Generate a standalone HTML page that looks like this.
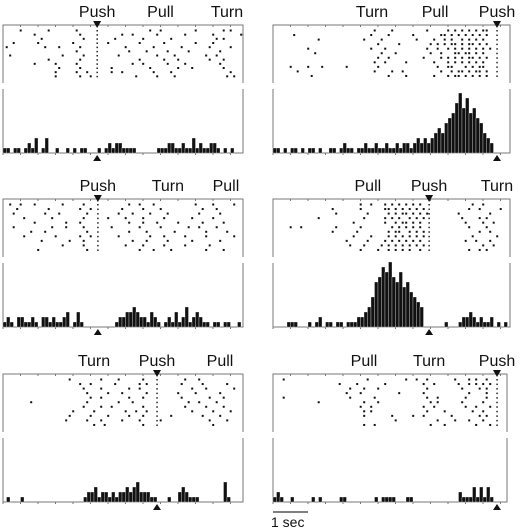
<!DOCTYPE html>
<html><head><meta charset="utf-8"><style>
html,body{margin:0;padding:0;background:#fff;width:520px;height:530px;overflow:hidden}
svg{display:block}
text{font-family:"Liberation Sans",sans-serif}
</style></head><body>
<svg id="fig" width="520" height="530"></svg>
<script>
// ---- data ----
const eventNamesA=["Push","Pull","Turn"];const eventTimesA=[2.69,4.5,6.4];const alignA=2.69;
const eventNamesB=["Turn","Pull","Push"];const eventTimesB=[2.83,4.63,6.4];const alignB=6.4;
const eventNamesC=["Push","Turn","Pull"];const eventTimesC=[2.71,4.71,6.37];const alignC=2.71;
const eventNamesD=["Pull","Push","Turn"];const eventTimesD=[2.71,4.46,6.4];const alignD=4.46;
const eventNamesE=["Turn","Push","Pull"];const eventTimesE=[2.6,4.4,6.2];const alignE=4.4;
const eventNamesF=["Pull","Turn","Push"];const eventTimesF=[2.6,4.46,6.4];const alignF=6.4;

const histA=[1,1,0,1,1,0,1,2,1,3,0,1,3,0,0,1,0,0,1,0,1,0,1,1,0,0,0,1,0,1,2,1,2,2,1,1,1,1,0,0,0,0,0,0,1,1,1,2,2,1,1,2,1,1,3,1,2,1,1,2,2,1,0,1,0,1,0,0];
const histB=[1,1,0,1,0,1,1,0,1,0,1,1,0,1,0,0,1,1,0,1,2,1,1,0,1,1,2,1,1,2,1,1,2,1,1,2,1,2,2,1,2,3,2,3,2,3,4,5,4,6,7,8,10,12,9,11,8,9,7,6,4,3,2,0,0,0,0,0];
const histC=[1,2,1,0,2,2,1,1,2,1,0,2,2,1,2,1,1,2,3,0,1,3,1,0,0,0,0,0,0,0,0,0,1,2,2,3,3,4,3,2,2,1,3,2,1,0,1,2,1,3,1,2,4,1,2,3,2,1,1,0,1,1,0,1,1,0,0,1];
const histD=[0,0,0,0,1,1,1,0,0,0,1,0,1,2,0,1,1,0,1,1,0,1,1,1,2,2,3,4,6,9,10,12,11,13,10,9,11,8,9,7,6,5,4,0,0,0,0,0,0,1,0,0,0,1,2,2,3,2,1,2,1,1,2,0,1,0,1,0];
const histE=[0,1,0,0,0,1,0,0,0,0,0,0,0,0,0,0,0,0,0,0,0,0,0,1,2,2,3,1,2,2,1,2,1,2,2,3,2,3,4,2,2,2,1,1,0,0,0,1,0,0,2,3,2,1,1,1,0,0,0,0,0,0,0,4,1,0,0,0];
const histF=[1,2,1,0,0,1,0,0,0,0,0,1,0,1,0,0,0,0,0,1,1,0,0,0,0,0,0,0,0,1,0,1,1,1,1,0,0,0,1,1,0,0,0,0,0,0,0,0,0,0,0,0,0,2,1,1,1,3,1,3,1,3,1,0,0,0,0,0];

const rasterA=[[0.5,1.3,2.1,4.2,4.5,5.5,6.3,6.5],[0.9,2.2,3.4,3.7,4.4,5.2,6.0,6.8],[1.1,2.3,3.2,4.0,4.8,6.1,6.3],[0.3,1.0,2.0,3.0,3.9,4.6,5.5,6.0],[0.1,1.2,1.6,2.2,3.5,4.3,5.1,5.9,6.5],[2.1,3.6,4.1,4.7,5.3,6.2],[0.2,1.7,2.3,3.3,4.4,4.9,5.8,6.1],[1.3,2.2,3.9,4.6,5.0,5.9,6.3],[0.9,1.5,2.1,3.7,4.0,4.7,5.2,6.2],[1.6,2.2,3.1,4.2,5.0,5.4,6.3],[1.5,2.1,2.4,3.1,3.4,4.3,4.8,6.5],[1.5,2.2,2.5,3.8,4.4,4.9,6.4,6.6]];
const rasterB=[[2.9,3.4,4.4,5.0,5.2,5.4,5.6,5.8,6.0,6.1],[0.6,2.8,3.3,4.0,4.8,4.9,5.1,5.3,5.5,5.7,5.9,6.1],[1.3,2.6,3.1,4.1,4.6,4.9,5.1,5.4,5.6,5.8,6.0],[3.0,3.6,4.5,4.7,4.9,5.1,5.2,5.4,5.6,5.7,5.9,6.1],[1.0,2.8,3.2,4.4,4.7,5.0,5.2,5.4,5.6,5.8,6.0,6.2],[1.2,3.1,3.5,4.5,4.8,5.2,5.3,5.5,5.6,5.8,6.0],[3.0,3.3,4.3,4.8,5.0,5.2,5.4,5.6,5.7,5.9,6.1],[2.9,3.2,3.8,4.6,5.0,5.2,5.4,5.6,5.8,6.0],[0.5,1.0,1.4,2.1,3.0,4.7,5.0,5.1,5.5,5.7,5.9,6.0],[0.7,2.9,3.4,3.7,4.8,5.1,5.3,5.4,5.6,5.8,5.9,6.1],[1.1,3.3,3.8,4.6,5.0,5.2,5.3,5.5,5.7,5.9,6.1]];
const rasterC=[[0.2,0.5,0.9,1.7,2.3,3.6,3.9,4.3,5.5,6.0,6.6],[0.4,1.3,2.2,2.5,3.4,4.0,4.5,5.7,6.1],[0.3,1.2,1.6,2.4,3.3,3.7,4.2,4.7,5.6,6.2],[0.6,1.4,2.3,3.0,3.5,4.0,4.6,5.4,6.0],[0.9,1.8,2.2,3.6,4.0,4.4,5.0,5.7,6.3],[0.3,1.4,1.8,2.3,3.1,3.9,4.5,5.3,5.6,6.1],[0.8,1.2,2.4,3.6,4.1,4.9,5.8,6.4],[0.6,1.5,2.2,2.5,3.3,4.2,4.6,5.2,5.8,6.6],[1.1,1.9,2.3,3.7,4.1,4.7,5.4,6.2],[1.7,2.3,3.5,4.0,4.6,5.2,5.9],[1.0,2.4,3.9,4.3,4.8,5.8,6.3]];
const rasterD=[[2.5,2.8,3.2,3.4,3.6,3.8,4.0,4.2,5.7,6.0],[1.7,2.5,3.2,3.3,3.5,3.7,3.9,4.1,4.3,5.6,5.9,6.5],[1.8,2.7,3.3,3.5,3.7,3.8,4.0,4.2,4.4,5.3,6.2],[1.3,2.6,3.2,3.4,3.6,3.9,4.1,4.3,5.4,5.9,6.1],[2.3,3.2,3.5,3.7,3.8,4.0,4.2,5.5,6.0,6.3],[0.5,0.8,1.8,2.5,3.4,3.6,3.8,4.0,4.2,5.6,6.1],[1.7,2.4,3.3,3.5,3.6,3.9,4.1,4.3,5.9,6.2],[2.3,2.8,3.3,3.5,3.7,3.9,4.1,4.3,5.7,6.4],[2.1,2.7,3.2,3.4,3.6,3.8,4.0,4.2,5.5,5.8,6.2],[2.2,2.6,3.1,3.3,3.5,3.7,3.9,4.1,4.3,6.0,6.3],[2.5,3.0,3.3,3.5,3.7,3.9,4.2,5.6,5.9,6.1]];
const rasterE=[[1.9,2.8,3.3,4.0,5.2,5.6],[2.2,2.5,3.2,3.9,4.1,5.1,5.7,6.4],[2.3,2.8,3.6,3.9,5.4,5.8,6.6],[2.4,3.0,3.4,4.1,5.0,5.5,6.2],[2.5,2.8,3.6,4.0,5.1,5.9,6.3],[0.8,2.4,3.3,3.7,5.3,5.6,6.1],[2.3,2.8,3.1,4.0,5.2,5.8,6.3],[2.0,2.6,3.5,3.8,4.1,5.4,6.0,6.5],[1.9,2.5,3.0,3.6,4.0,4.8,5.7,6.2],[1.8,2.4,2.8,3.4,3.9,4.5,5.9,6.4],[2.6,2.9,4.0,6.0]];
const rasterF=[[0.3,2.7,3.8,4.1,4.4,5.2,5.6,5.8,6.1],[1.9,2.4,3.2,4.3,4.6,5.3,5.6,5.8,6.0,6.2],[2.2,2.6,3.0,4.4,5.4,5.9,6.1],[2.1,2.5,3.6,4.3,5.6,6.1],[0.3,2.2,2.9,4.4,4.7,5.5,6.1],[1.3,2.6,3.0,4.5,4.7,5.4,6.0],[2.5,2.8,4.3,4.6,5.5,5.8,6.2],[2.6,2.8,4.4,4.9,5.7,6.0],[2.6,3.4,4.0,4.3,5.1,5.9,6.1],[3.5,4.7,5.2,5.6,6.0],[2.6,2.9,4.5,4.9,5.8,6.2]];

// ---- layout ----
const PX=35, BIN=0.1, UNIT=5;
const panels=[
 {id:"a",x0:3,x1:243,top:25,names:eventNamesA,times:eventTimesA,align:alignA,hist:histA,raster:rasterA},
 {id:"b",x0:273,x1:510,top:25,names:eventNamesB,times:eventTimesB,align:alignB,hist:histB,raster:rasterB},
 {id:"c",x0:3,x1:243,top:199,names:eventNamesC,times:eventTimesC,align:alignC,hist:histC,raster:rasterC},
 {id:"d",x0:273,x1:510,top:199,names:eventNamesD,times:eventTimesD,align:alignD,hist:histD,raster:rasterD},
 {id:"e",x0:3,x1:243,top:374,names:eventNamesE,times:eventTimesE,align:alignE,hist:histE,raster:rasterE},
 {id:"f",x0:273,x1:507,top:374,names:eventNamesF,times:eventTimesF,align:alignF,hist:histF,raster:rasterF}
];
const NS="http://www.w3.org/2000/svg";
const svg=document.getElementById("fig");
function mk(tag,attrs,parent){const e=document.createElementNS(NS,tag);for(const k in attrs)e.setAttribute(k,attrs[k]);(parent||svg).appendChild(e);return e;}
panels.forEach(p=>{
 const g=mk("g",{});
 
 
 const xs=t=>p.x0+t*PX;
 const top=p.top, rb=top+58, ht=top+64, base=top+128;
 const fr=mk("path",{d:`M${p.x0},${rb}V${top}H${p.x1}V${rb}`,fill:"none",stroke:"#777","stroke-width":1},g);
 
 
 const hf=mk("path",{d:`M${p.x0},${ht}V${base}H${p.x1}V${ht}`,fill:"none",stroke:"#777","stroke-width":1},g);
 
 
 for(let t=0;xs(t)<=p.x1;t+=0.5){
  mk("line",{x1:xs(t),x2:xs(t),y1:top,y2:top+2,stroke:"#777"},g);
  mk("line",{x1:xs(t),x2:xs(t),y1:base,y2:base+2,stroke:"#777"},g);
 }
 p.names.forEach((n,i)=>{
  const tx=mk("text",{x:xs(p.times[i]),y:top-8,"text-anchor":"middle","font-size":16,fill:"#111"},g);
  tx.textContent=n;
  
  
 });
 const ax=xs(p.align);
 const tri1=mk("path",{d:`M${ax-4},${top-4}H${ax+4}L${ax},${top+3}Z`,fill:"#111"},g);
 
 
 const tri2=mk("path",{d:`M${ax-4},${base+8}H${ax+4}L${ax},${base+2}Z`,fill:"#111"},g);
 
 
 const n=p.raster.length, dy=50/n;
 p.raster.forEach((tr,k)=>{
  const y=top+5+k*dy;
  mk("rect",{x:ax-0.7,y:y,width:1.5,height:1.5,fill:"#222"},g);
  tr.forEach(t=>{
   const d=mk("rect",{x:xs(t)-0.8,y:y-0.5,width:2,height:2,fill:"#111"},g);
   
   
  });
 });
 p.hist.forEach((c,i)=>{
  if(!c)return;
  const h=c*UNIT;
  const b=mk("rect",{x:xs(i*BIN),y:base-h,width:BIN*PX,height:h,fill:"#111",stroke:"#fff","stroke-width":0.3},g);
  
  
 });
});
const sb=mk("line",{x1:273,x2:308,y1:512,y2:512,stroke:"#333","stroke-width":1.2});


const st=mk("text",{x:271,y:527,"font-size":14,fill:"#111"});
st.textContent="1 sec";


</script>
</body></html>
